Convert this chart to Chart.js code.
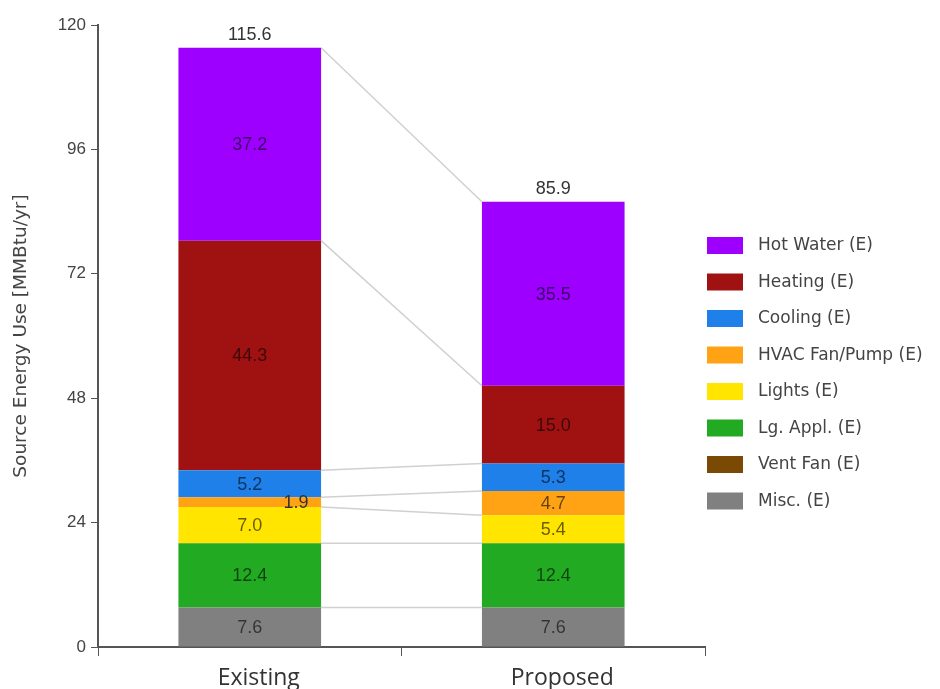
<!DOCTYPE html>
<html>
<head>
<meta charset="utf-8">
<script src="https://cdn.jsdelivr.net/npm/chart.js@4.4.1/dist/chart.umd.min.js"></script>
<style>
  html, body { margin: 0; padding: 0; background: #fff; }
</style>
</head>
<body>
<canvas id="energy-chart" width="940" height="689"></canvas>
<script>
// data
const categories = ['Existing', 'Proposed'];
const misc = [7.6, 7.6];
const ventFan = [0, 0];
const lgAppl = [12.4, 12.4];
const lights = [7.0, 5.4];
const hvacFan = [1.9, 4.7];
const cooling = [5.2, 5.3];
const heating = [44.3, 15.0];
const hotWater = [37.2, 35.5];
const totals = [115.6, 85.9];
const yTicks = [0, 24, 48, 72, 96, 120];

// bottom of stack first
const series = [
  { label: 'Misc. (E)', data: misc, color: '#808080' },
  { label: 'Vent Fan (E)', data: ventFan, color: '#7a4a05' },
  { label: 'Lg. Appl. (E)', data: lgAppl, color: '#22aa22' },
  { label: 'Lights (E)', data: lights, color: '#ffe500' },
  { label: 'HVAC Fan/Pump (E)', data: hvacFan, color: '#ffa214' },
  { label: 'Cooling (E)', data: cooling, color: '#1f80ea' },
  { label: 'Heating (E)', data: heating, color: '#a01212' },
  { label: 'Hot Water (E)', data: hotWater, color: '#9d00ff' }
];

// light grey lines joining the top of each segment across the bars
const connectors = {
  id: 'connectors',
  beforeDatasetsDraw(chart) {
    const ctx = chart.ctx;
    ctx.save();
    ctx.strokeStyle = '#d0d0d0';
    ctx.lineWidth = 1.5;
    chart.data.datasets.forEach((ds, i) => {
      if (ds.data.every(v => v === 0)) return;
      const bars = chart.getDatasetMeta(i).data;
      const a = bars[0], b = bars[1];
      ctx.beginPath();
      ctx.moveTo(a.x + a.width / 2, a.y);
      ctx.lineTo(b.x - b.width / 2, b.y);
      ctx.stroke();
    });
    ctx.restore();
  }
};

// segment values and totals
const valueLabels = {
  id: 'valueLabels',
  afterDatasetsDraw(chart) {
    const ctx = chart.ctx;
    ctx.save();
    ctx.font = '18px "Liberation Sans", Arial, sans-serif';
    ctx.textAlign = 'center';
    ctx.textBaseline = 'middle';
    chart.data.datasets.forEach((ds, i) => {
      chart.getDatasetMeta(i).data.forEach((bar, j) => {
        const v = ds.data[j];
        if (!v) return;
        let x = bar.x;
        if (v < 3) {
          x = bar.x + bar.width / 2 - 25;
          ctx.fillStyle = '#333';
        } else {
          ctx.fillStyle = 'rgba(0,0,0,0.6)';
        }
        ctx.fillText(v.toFixed(1), x, (bar.y + bar.base) / 2 + 1);
      });
    });
    // totals above the top segment
    const top = chart.getDatasetMeta(chart.data.datasets.length - 1).data;
    ctx.fillStyle = '#333';
    top.forEach((bar, j) => {
      ctx.fillText(totals[j].toFixed(1), bar.x, bar.y - 13);
    });
    ctx.restore();
  }
};

// legend on the right, top of stack first
const sideLegend = {
  id: 'sideLegend',
  afterDraw(chart) {
    const ctx = chart.ctx;
    const items = chart.data.datasets.slice().reverse();
    const x0 = chart.chartArea.right + 2;
    const y0 = 237;
    ctx.save();
    ctx.font = '17px "DejaVu Sans", sans-serif';
    ctx.textBaseline = 'middle';
    ctx.textAlign = 'left';
    items.forEach((ds, i) => {
      const y = y0 + i * 36.5;
      ctx.fillStyle = ds.backgroundColor;
      ctx.fillRect(x0, y, 36, 17);
      ctx.fillStyle = '#444';
      ctx.fillText(ds.label, x0 + 51, y + 9);
    });
    ctx.restore();
  }
};

const ctx = document.getElementById('energy-chart').getContext('2d');
const chart = new Chart(ctx, {
  type: 'bar',
  data: {
    labels: categories,
    datasets: series.map(s => ({
      label: s.label,
      data: s.data,
      backgroundColor: s.color,
      borderWidth: 0,
      barPercentage: 0.47,
      categoryPercentage: 1.0
    }))
  },
  options: {
    responsive: false,
    animation: false,
    layout: { padding: { top: 25, right: 235, left: 0, bottom: 0 } },
    plugins: {
      legend: { display: false },
      tooltip: { enabled: false }
    },
    scales: {
      x: {
        stacked: true,
        afterFit: s => { s.height = 42; },
        grid: { drawOnChartArea: false, drawTicks: true, tickLength: 9, color: '#555' },
        border: { display: true, color: '#555', width: 2 },
        ticks: {
          color: '#333',
          labelOffset: 9,
          padding: 9,
          font: { family: '"Open Sans", sans-serif', size: 23 }
        }
      },
      y: {
        stacked: true,
        min: 0,
        max: 120,
        afterFit: s => { s.width = 98; },
        afterBuildTicks: s => { s.ticks = yTicks.map(v => ({ value: v })); },
        grid: { drawOnChartArea: false, drawTicks: true, tickLength: 7, color: '#555' },
        border: { display: true, color: '#555', width: 2 },
        ticks: {
          color: '#444',
          padding: 5,
          font: { family: '"Liberation Sans", Arial, sans-serif', size: 17 }
        },
        title: {
          display: true,
          text: 'Source Energy Use [MMBtu/yr]',
          color: '#444',
          padding: { top: 10, bottom: 0 },
          font: { family: '"DejaVu Sans", sans-serif', size: 18.5 }
        }
      }
    }
  },
  plugins: [connectors, valueLabels, sideLegend]
});
</script>
</body>
</html>
